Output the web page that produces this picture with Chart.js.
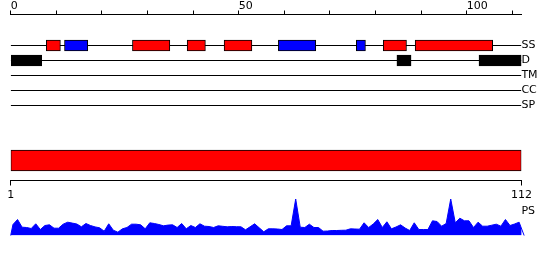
<!DOCTYPE html>
<html>
<head>
<meta charset="utf-8">
<script src="https://cdn.jsdelivr.net/npm/chart.js@4.4.1/dist/chart.umd.min.js"></script>
<style>
  body { margin: 0; background: #fff; }
  #wrap { position: relative; width: 550px; height: 260px; }
  canvas { position: absolute; left: 0; }
</style>
</head>
<body>
<div id="wrap">
  <canvas id="tracksChart" width="550" height="125" style="top:0"></canvas>
  <canvas id="seqChart" width="550" height="65" style="top:140px"></canvas>
  <canvas id="psChart" width="550" height="55" style="top:188px"></canvas>
</div>
<script>
// Track names shown on the right
const trackNames = ['SS', 'D', 'TM', 'CC', 'SP'];
const seqLength = 112;

// Secondary structure, [start, end] in residues
const helixRanges = [[7.8, 10.9], [26.7, 34.9], [38.7, 42.7], [46.8, 52.9], [81.7, 86.8], [88.7, 105.7]];
const strandRanges = [[11.8, 16.9], [58.7, 66.9], [75.8, 77.8]];
// Disordered regions
const disorderRanges = [[0, 6.8], [84.7, 87.8], [102.7, 112]];

// Axis ticks
const topTicks = [0, 10, 20, 30, 40, 50, 60, 70, 80, 90, 100, 110];
const topTickLabels = [0, 50, 100];
const seqTicks = [1, 112];

// PS profile, one value per residue
const psValues = [
  11, 16, 8.3, 8, 7, 11.7, 6, 10, 10.7, 7.3,
  7.3, 11.3, 13.3, 12.4, 11.5, 8.7, 12, 10, 8.6, 7.7,
  4.3, 11.7, 5.3, 3.3, 6.7, 8, 11.3, 11.3, 10.7, 6.7,
  12.7, 12, 11, 9.7, 10.4, 10.7, 8, 12, 6.7, 10,
  8, 11.7, 9.3, 9, 8, 9.7, 9.2, 8.7, 9, 8.8,
  8.7, 5.7, 8.7, 11.7, 7.7, 3.7, 6.7, 6.7, 6.5, 6,
  9.7, 9.7, 36.5, 8.3, 8, 11.3, 8, 8, 4.3, 4.5,
  5, 5, 5.2, 5.3, 6.7, 6.5, 6.3, 12.7, 8, 11.5,
  16, 8, 13.7, 6.7, 8.5, 10.7, 7.5, 5, 12.7, 6,
  6, 6, 14.7, 14, 9.3, 12, 36.5, 12.7, 17.3, 14.7,
  14.7, 8, 13.3, 9.3, 9.3, 10.3, 11.3, 9.3, 16, 10,
  11.5, 13.3
];

Chart.defaults.font.family = "'DejaVu Sans', sans-serif";
Chart.defaults.font.size = 11;
Chart.defaults.color = '#000';
Chart.defaults.animation = false;
Chart.defaults.plugins.legend.display = false;
Chart.defaults.plugins.tooltip.enabled = false;

function rangeBars(label, ranges, track, color) {
  return {
    label: label,
    data: ranges.map(r => ({ x: r, y: track })),
    backgroundColor: color,
    borderColor: '#000',
    borderWidth: 1,
    borderSkipped: false,
    barThickness: 11,
    grouped: false,
    order: 1
  };
}

// feature tracks
new Chart(document.getElementById('tracksChart'), {
  type: 'bar',
  data: {
    datasets: [
      ...trackNames.map((name, i) => ({
        type: 'line',
        label: name,
        data: [{ x: 0, y: i }, { x: seqLength, y: i }],
        borderColor: '#000',
        borderWidth: 1,
        pointRadius: 0,
        order: 3
      })),
      rangeBars('Helix', helixRanges, 0, '#ff0000'),
      rangeBars('Strand', strandRanges, 0, '#0000ff'),
      rangeBars('Disorder', disorderRanges, 1, '#000000')
    ]
  },
  options: {
    responsive: false,
    indexAxis: 'y',
    events: [],
    layout: { padding: { left: 10.7, right: 0, top: 0, bottom: 10 } },
    scales: {
      x: {
        type: 'linear', position: 'top', min: 0, max: seqLength, offset: false,
        afterBuildTicks: s => { s.ticks = topTicks.map(v => ({ value: v })); },
        afterFit: s => { s.height = 14.5; },
        ticks: {
          autoSkip: false, maxRotation: 0, align: 'start', padding: -2.5,
          callback: v => topTickLabels.includes(v) ? String(v) : ''
        },
        grid: { drawOnChartArea: false, tickLength: 4, color: '#000', offset: false },
        border: { color: '#000' }
      },
      y: {
        type: 'linear', position: 'right', reverse: true, offset: false,
        min: -31 / 15, max: 69.5 / 15,
        afterBuildTicks: s => { s.ticks = trackNames.map((n, i) => ({ value: i })); },
        afterFit: s => { s.width = 28.6; },
        ticks: { padding: 0, callback: v => trackNames[v] },
        grid: { display: false, drawTicks: false, offset: false },
        border: { display: false }
      }
    }
  }
});

// full sequence bar + residue axis
new Chart(document.getElementById('seqChart'), {
  type: 'bar',
  data: {
    datasets: [{
      label: 'Sequence',
      data: [{ x: [seqTicks[0], seqLength], y: 0 }],
      backgroundColor: '#ff0000',
      borderColor: '#000',
      borderWidth: 1,
      borderSkipped: false,
      barThickness: 21
    }]
  },
  options: {
    responsive: false,
    indexAxis: 'y',
    events: [],
    layout: { padding: { left: 10.7, right: 28.6, top: 0.5, bottom: 0 } },
    scales: {
      x: {
        type: 'linear', position: 'bottom', min: seqTicks[0], max: seqLength, offset: false,
        afterBuildTicks: s => { s.ticks = seqTicks.map(v => ({ value: v })); },
        afterFit: s => { s.height = 24.5; },
        ticks: { autoSkip: false, maxRotation: 0, padding: 3 },
        grid: { drawOnChartArea: false, tickLength: 5, color: '#000', offset: false },
        border: { color: '#000' }
      },
      y: { type: 'linear', display: false, min: -1, max: 1, offset: false }
    }
  }
});

// PS profile
const psData = [{ x: 0, y: 0 }]
  .concat(psValues.map((v, i) => ({ x: i + 0.5, y: v })))
  .concat([{ x: 112.6, y: 0 }, { x: 116.4, y: 0 }]);

new Chart(document.getElementById('psChart'), {
  type: 'line',
  data: {
    datasets: [{
      label: 'PS',
      data: psData,
      borderColor: '#0000ff',
      backgroundColor: '#0000ff',
      borderWidth: 1,
      pointRadius: 0,
      fill: 'origin',
      tension: 0,
      clip: false
    }]
  },
  options: {
    responsive: false,
    events: [],
    layout: { padding: { left: 10.7, right: 0, top: 7.5, bottom: 7.5 } },
    scales: {
      x: { type: 'linear', display: false, min: 0, max: seqLength },
      y: {
        type: 'linear', position: 'right', min: 0, max: 40,
        afterBuildTicks: s => { s.ticks = [{ value: 24.5 }]; },
        afterFit: s => { s.width = 28.6; },
        ticks: { padding: 0, callback: () => 'PS' },
        grid: { display: false, drawTicks: false },
        border: { display: false }
      }
    }
  }
});
</script>
</body>
</html>
